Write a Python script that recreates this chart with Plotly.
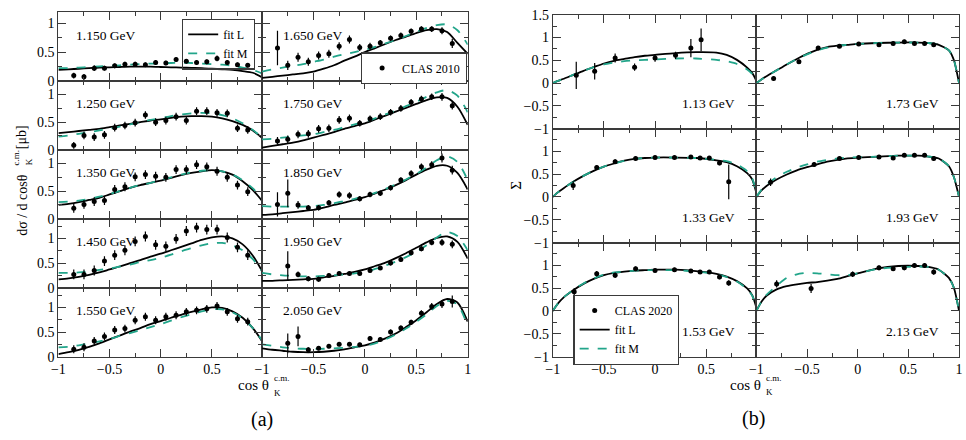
import plotly.graph_objects as go

W, H = 966, 440

# ---------------- DATA: panel (a) dsigma/dcos ----------------
x_fit_a = [-1.0, -0.9, -0.8, -0.7, -0.6, -0.5, -0.4, -0.3, -0.2, -0.1, 0.0,
           0.1, 0.2, 0.3, 0.4, 0.5, 0.6, 0.7, 0.8, 0.9, 1.0]
x_pts_a = [-0.85, -0.75, -0.65, -0.55, -0.45, -0.35, -0.25, -0.15, -0.05,
           0.05, 0.15, 0.25, 0.35, 0.45, 0.55, 0.65, 0.75, 0.85]
x_pts_a_short = [-0.75, -0.65, -0.55, -0.45, -0.35, -0.25, -0.15, -0.05,
                 0.05, 0.15, 0.25, 0.35, 0.45, 0.55, 0.65, 0.75, 0.85]

labels_a = ["1.150 GeV", "1.250 GeV", "1.350 GeV", "1.450 GeV", "1.550 GeV",
            "1.650 GeV", "1.750 GeV", "1.850 GeV", "1.950 GeV", "2.050 GeV"]
yrange_a = [1.2, 1.25, 1.25, 1.4, 1.4]

a1150_y = [0.09, 0.07, 0.22, 0.22, 0.26, 0.29, 0.29, 0.28, 0.32, 0.31, 0.37, 0.34, 0.32, 0.33, 0.39, 0.32, 0.28, 0.27]
a1150_e = [0.05, 0.05, 0.05, 0.04, 0.04, 0.04, 0.04, 0.04, 0.04, 0.04, 0.04, 0.04, 0.04, 0.04, 0.05, 0.04, 0.04, 0.04]
a1150_L = [0.19, 0.2, 0.21, 0.22, 0.23, 0.235, 0.24, 0.245, 0.245, 0.245, 0.24, 0.235, 0.23, 0.225, 0.22, 0.21, 0.2, 0.19, 0.17, 0.14, 0.05]
a1150_M = [0.22, 0.22, 0.23, 0.24, 0.25, 0.26, 0.27, 0.28, 0.29, 0.3, 0.3, 0.31, 0.31, 0.31, 0.3, 0.29, 0.28, 0.26, 0.23, 0.19, 0.12]

a1250_y = [0.08, 0.26, 0.23, 0.27, 0.40, 0.44, 0.49, 0.63, 0.50, 0.53, 0.60, 0.53, 0.70, 0.70, 0.67, 0.66, 0.39, 0.36]
a1250_e = [0.06, 0.07, 0.07, 0.07, 0.07, 0.07, 0.07, 0.07, 0.07, 0.07, 0.07, 0.07, 0.07, 0.07, 0.07, 0.07, 0.07, 0.07]
a1250_L = [0.3, 0.32, 0.34, 0.36, 0.38, 0.41, 0.44, 0.47, 0.5, 0.53, 0.55, 0.58, 0.6, 0.61, 0.61, 0.6, 0.57, 0.52, 0.45, 0.35, 0.2]
a1250_M = [0.24, 0.26, 0.29, 0.32, 0.35, 0.38, 0.42, 0.46, 0.5, 0.54, 0.57, 0.61, 0.64, 0.66, 0.67, 0.66, 0.63, 0.57, 0.48, 0.36, 0.2]

a1350_y = [0.19, 0.26, 0.31, 0.33, 0.53, 0.58, 0.76, 0.80, 0.77, 0.75, 0.89, 0.89, 0.98, 0.94, 0.86, 0.75, 0.61, 0.49]
a1350_e = [0.08, 0.08, 0.08, 0.08, 0.08, 0.08, 0.08, 0.08, 0.08, 0.08, 0.08, 0.08, 0.08, 0.08, 0.08, 0.08, 0.08, 0.08]
a1350_L = [0.25, 0.27, 0.3, 0.34, 0.38, 0.44, 0.5, 0.56, 0.61, 0.65, 0.69, 0.74, 0.79, 0.83, 0.86, 0.88, 0.86, 0.8, 0.68, 0.52, 0.3]
a1350_M = [0.3, 0.31, 0.33, 0.36, 0.4, 0.45, 0.5, 0.56, 0.61, 0.65, 0.7, 0.75, 0.8, 0.84, 0.87, 0.88, 0.86, 0.8, 0.7, 0.55, 0.35]

a1450_y = [0.27, 0.27, 0.35, 0.54, 0.66, 0.76, 0.94, 1.04, 0.87, 0.84, 0.99, 1.15, 1.22, 1.18, 1.18, 1.02, 0.82, 0.66]
a1450_e = [0.1, 0.1, 0.1, 0.1, 0.1, 0.1, 0.1, 0.1, 0.1, 0.1, 0.1, 0.1, 0.1, 0.1, 0.1, 0.1, 0.1, 0.1]
a1450_L = [0.17, 0.19, 0.22, 0.26, 0.31, 0.37, 0.43, 0.5, 0.56, 0.63, 0.69, 0.76, 0.83, 0.9, 0.97, 1.02, 1.04, 1.0, 0.88, 0.65, 0.3]
a1450_M = [0.3, 0.3, 0.31, 0.33, 0.36, 0.39, 0.43, 0.47, 0.52, 0.56, 0.61, 0.67, 0.74, 0.8, 0.86, 0.9, 0.91, 0.86, 0.76, 0.58, 0.3]

a1550_y = [0.15, 0.19, 0.32, 0.41, 0.54, 0.57, 0.74, 0.81, 0.74, 0.81, 0.84, 0.91, 0.94, 0.97, 1.03, 0.91, 0.77, 0.71]
a1550_e = [0.08, 0.08, 0.08, 0.08, 0.08, 0.08, 0.08, 0.08, 0.08, 0.08, 0.08, 0.08, 0.08, 0.08, 0.08, 0.08, 0.08, 0.08]
a1550_L = [0.05, 0.09, 0.14, 0.2, 0.27, 0.35, 0.43, 0.51, 0.58, 0.66, 0.72, 0.79, 0.85, 0.91, 0.96, 1.0, 0.99, 0.92, 0.79, 0.58, 0.28]
a1550_M = [0.19, 0.2, 0.23, 0.27, 0.31, 0.36, 0.42, 0.48, 0.54, 0.6, 0.66, 0.73, 0.8, 0.86, 0.92, 0.96, 0.96, 0.9, 0.78, 0.58, 0.3]

a1650_y = [0.57, 0.27, 0.41, 0.33, 0.44, 0.47, 0.60, 0.72, 0.58, 0.60, 0.66, 0.74, 0.79, 0.86, 0.90, 0.90, 0.87, 0.65]
a1650_e = [0.3, 0.08, 0.08, 0.07, 0.07, 0.07, 0.07, 0.07, 0.06, 0.06, 0.05, 0.05, 0.05, 0.05, 0.05, 0.05, 0.06, 0.08]
a1650_L = [0.05, 0.07, 0.09, 0.11, 0.13, 0.16, 0.21, 0.27, 0.35, 0.42, 0.5, 0.57, 0.64, 0.71, 0.77, 0.83, 0.88, 0.9, 0.85, 0.66, 0.47]
a1650_M = [0.16, 0.2, 0.23, 0.26, 0.29, 0.33, 0.37, 0.42, 0.46, 0.5, 0.54, 0.59, 0.65, 0.71, 0.78, 0.85, 0.92, 0.97, 0.98, 0.88, 0.63]

a1750_y = [0.16, 0.19, 0.28, 0.29, 0.38, 0.39, 0.54, 0.57, 0.48, 0.56, 0.60, 0.68, 0.75, 0.86, 0.92, 0.96, 0.96, 0.80]
a1750_e = [0.07, 0.07, 0.07, 0.07, 0.07, 0.07, 0.07, 0.07, 0.06, 0.06, 0.06, 0.06, 0.06, 0.06, 0.06, 0.06, 0.07, 0.07]
a1750_L = [0.04, 0.07, 0.1, 0.13, 0.17, 0.22, 0.27, 0.32, 0.38, 0.43, 0.48, 0.55, 0.62, 0.69, 0.76, 0.83, 0.9, 0.95, 0.94, 0.78, 0.45]
a1750_M = [0.19, 0.2, 0.22, 0.24, 0.26, 0.28, 0.32, 0.36, 0.41, 0.46, 0.51, 0.57, 0.64, 0.71, 0.79, 0.87, 0.96, 1.04, 1.08, 0.98, 0.68]

a1850_y = [0.26, 0.46, 0.25, 0.20, 0.20, 0.29, 0.44, 0.42, 0.36, 0.44, 0.46, 0.56, 0.70, 0.82, 0.94, 0.98, 1.10, 0.88]
a1850_e = [0.22, 0.25, 0.07, 0.05, 0.05, 0.05, 0.06, 0.06, 0.05, 0.05, 0.05, 0.05, 0.05, 0.06, 0.06, 0.06, 0.08, 0.08]
a1850_L = [0.07, 0.08, 0.1, 0.12, 0.14, 0.16, 0.2, 0.25, 0.29, 0.34, 0.39, 0.46, 0.53, 0.61, 0.7, 0.8, 0.89, 0.96, 0.96, 0.83, 0.53]
a1850_M = [0.23, 0.22, 0.22, 0.22, 0.22, 0.23, 0.25, 0.28, 0.32, 0.36, 0.41, 0.47, 0.54, 0.62, 0.71, 0.81, 0.93, 1.06, 1.13, 1.03, 0.7]

a1950_y = [0.44, 0.27, 0.18, 0.17, 0.25, 0.29, 0.29, 0.29, 0.35, 0.40, 0.50, 0.57, 0.71, 0.79, 0.92, 0.92, 0.88]
a1950_e = [0.3, 0.06, 0.05, 0.05, 0.04, 0.04, 0.04, 0.04, 0.04, 0.04, 0.05, 0.05, 0.05, 0.05, 0.06, 0.07, 0.08]
a1950_L = [0.14, 0.14, 0.15, 0.16, 0.17, 0.18, 0.21, 0.24, 0.28, 0.32, 0.37, 0.44, 0.51, 0.6, 0.7, 0.81, 0.92, 1.01, 1.04, 0.93, 0.59]
a1950_M = [0.3, 0.27, 0.25, 0.24, 0.23, 0.23, 0.24, 0.25, 0.27, 0.29, 0.32, 0.38, 0.45, 0.53, 0.62, 0.73, 0.86, 1.02, 1.13, 1.05, 0.76]

a2050_y = [0.27, 0.41, 0.14, 0.17, 0.21, 0.25, 0.25, 0.24, 0.37, 0.35, 0.50, 0.58, 0.70, 0.88, 1.02, 1.07, 1.12]
a2050_e = [0.2, 0.2, 0.05, 0.04, 0.04, 0.04, 0.04, 0.04, 0.05, 0.04, 0.05, 0.05, 0.05, 0.06, 0.07, 0.08, 0.12]
a2050_L = [0.17, 0.14, 0.12, 0.1, 0.09, 0.09, 0.1, 0.12, 0.15, 0.19, 0.23, 0.29, 0.37, 0.47, 0.6, 0.74, 0.9, 1.07, 1.17, 1.1, 0.71]
a2050_M = [0.25, 0.22, 0.19, 0.17, 0.16, 0.16, 0.16, 0.17, 0.18, 0.2, 0.22, 0.27, 0.35, 0.45, 0.57, 0.71, 0.86, 1.03, 1.13, 1.06, 0.62]

# ---------------- DATA: panel (b) beam asymmetry Sigma ----------------
x_fit_b = [-1.0, -0.95, -0.9, -0.8, -0.7, -0.6, -0.5, -0.4, -0.3, -0.2, -0.1,
           0.0, 0.2, 0.4, 0.6, 0.7, 0.8, 0.9, 0.95, 1.0]
labels_b = ["1.13 GeV", "1.73 GeV", "1.33 GeV", "1.93 GeV", "1.53 GeV", "2.13 GeV"]

b113_x = [-0.77, -0.59, -0.39, -0.2, 0.0, 0.2, 0.35, 0.45]
b113_y = [0.17, 0.26, 0.55, 0.35, 0.55, 0.61, 0.77, 0.95]
b113_e = [0.3, 0.18, 0.1, 0.08, 0.08, 0.08, 0.2, 0.25]
b113_L = [0, 0.05, 0.09, 0.18, 0.27, 0.35, 0.43, 0.49, 0.53, 0.57, 0.6, 0.62, 0.66, 0.68, 0.67, 0.62, 0.51, 0.34, 0.22, 0]
b113_M = [0, 0.05, 0.09, 0.18, 0.27, 0.35, 0.41, 0.45, 0.48, 0.5, 0.51, 0.52, 0.54, 0.54, 0.51, 0.48, 0.42, 0.3, 0.2, 0]

b173_x = [-0.83, -0.58, -0.39, -0.18, 0.01, 0.21, 0.35, 0.46, 0.56, 0.66, 0.75]
b173_y = [0.1, 0.47, 0.77, 0.81, 0.86, 0.84, 0.87, 0.91, 0.87, 0.87, 0.84]
b173_e = [0.05, 0.05, 0.04, 0.04, 0.04, 0.04, 0.04, 0.04, 0.04, 0.04, 0.04]
b173_L = [0, 0.08, 0.15, 0.28, 0.41, 0.53, 0.64, 0.73, 0.79, 0.82, 0.84, 0.86, 0.88, 0.89, 0.89, 0.88, 0.84, 0.72, 0.5, 0]
b173_M = [0, 0.08, 0.15, 0.28, 0.41, 0.53, 0.63, 0.72, 0.78, 0.82, 0.84, 0.86, 0.88, 0.89, 0.89, 0.88, 0.84, 0.72, 0.5, 0]

b133_x = [-0.8, -0.57, -0.39, -0.19, 0.0, 0.19, 0.35, 0.44, 0.53, 0.63, 0.72]
b133_y = [0.25, 0.64, 0.77, 0.84, 0.86, 0.86, 0.87, 0.85, 0.85, 0.74, 0.33]
b133_e = [0.1, 0.05, 0.05, 0.04, 0.04, 0.04, 0.04, 0.04, 0.04, 0.05, 0.38]
b133_L = [0, 0.1, 0.18, 0.33, 0.46, 0.57, 0.66, 0.73, 0.79, 0.83, 0.85, 0.86, 0.86, 0.85, 0.8, 0.76, 0.67, 0.52, 0.38, 0]
b133_M = [0, 0.1, 0.18, 0.33, 0.46, 0.57, 0.66, 0.73, 0.79, 0.83, 0.85, 0.86, 0.86, 0.85, 0.81, 0.78, 0.71, 0.56, 0.4, 0]

b193_x = [-0.86, -0.43, -0.18, 0.01, 0.21, 0.35, 0.46, 0.56, 0.66, 0.75]
b193_y = [0.32, 0.71, 0.84, 0.86, 0.87, 0.85, 0.91, 0.91, 0.91, 0.84]
b193_e = [0.08, 0.05, 0.04, 0.04, 0.04, 0.04, 0.04, 0.04, 0.04, 0.05]
b193_L = [0, 0.14, 0.24, 0.38, 0.49, 0.58, 0.65, 0.71, 0.77, 0.81, 0.84, 0.86, 0.88, 0.9, 0.9, 0.88, 0.84, 0.67, 0.43, 0]
b193_M = [0, 0.16, 0.27, 0.43, 0.55, 0.64, 0.71, 0.77, 0.81, 0.84, 0.86, 0.87, 0.88, 0.9, 0.9, 0.88, 0.84, 0.67, 0.43, 0]

b153_x = [-0.79, -0.57, -0.39, -0.19, 0.0, 0.19, 0.35, 0.44, 0.53, 0.63, 0.72]
b153_y = [0.42, 0.81, 0.78, 0.92, 0.88, 0.9, 0.87, 0.85, 0.85, 0.74, 0.61]
b153_e = [0.08, 0.06, 0.06, 0.05, 0.04, 0.04, 0.04, 0.04, 0.04, 0.05, 0.06]
b153_L = [0, 0.16, 0.28, 0.45, 0.59, 0.7, 0.78, 0.83, 0.86, 0.88, 0.89, 0.9, 0.9, 0.87, 0.81, 0.75, 0.65, 0.49, 0.34, 0]
b153_M = [0, 0.16, 0.28, 0.46, 0.6, 0.71, 0.79, 0.84, 0.86, 0.88, 0.89, 0.89, 0.89, 0.86, 0.8, 0.74, 0.64, 0.48, 0.33, 0]

b213_x = [-0.8, -0.46, -0.05, 0.21, 0.35, 0.46, 0.56, 0.66, 0.75]
b213_y = [0.59, 0.49, 0.8, 0.94, 0.92, 0.94, 0.99, 0.99, 0.85]
b213_e = [0.08, 0.1, 0.06, 0.05, 0.05, 0.05, 0.05, 0.05, 0.06]
b213_L = [0, 0.2, 0.33, 0.47, 0.54, 0.58, 0.61, 0.63, 0.66, 0.7, 0.76, 0.82, 0.93, 0.98, 0.98, 0.96, 0.9, 0.72, 0.5, 0]
b213_M = [0, 0.2, 0.35, 0.55, 0.72, 0.8, 0.83, 0.82, 0.8, 0.78, 0.78, 0.82, 0.92, 0.95, 0.97, 0.96, 0.9, 0.72, 0.5, 0]

# ---------------- STYLE ----------------
FONT = "Liberation Serif, Times New Roman, Times, serif"
AX = "#3a3a3a"
COL_L = "#000000"
COL_M = "#22a58a"

def px(x):
    return x / W

def py(y):
    return 1 - y / H

fig = go.Figure()
layout = dict(width=W, height=H, margin=dict(l=0, r=0, t=0, b=0),
              paper_bgcolor="white", plot_bgcolor="white",
              font=dict(family=FONT, color="black"),
              showlegend=True)
annotations = []

panels_a = [
    (a1150_y, a1150_e, a1150_L, a1150_M, x_pts_a),
    (a1250_y, a1250_e, a1250_L, a1250_M, x_pts_a),
    (a1350_y, a1350_e, a1350_L, a1350_M, x_pts_a),
    (a1450_y, a1450_e, a1450_L, a1450_M, x_pts_a),
    (a1550_y, a1550_e, a1550_L, a1550_M, x_pts_a),
    (a1650_y, a1650_e, a1650_L, a1650_M, x_pts_a),
    (a1750_y, a1750_e, a1750_L, a1750_M, x_pts_a),
    (a1850_y, a1850_e, a1850_L, a1850_M, x_pts_a),
    (a1950_y, a1950_e, a1950_L, a1950_M, x_pts_a_short),
    (a2050_y, a2050_e, a2050_L, a2050_M, x_pts_a_short),
]
panels_b = [
    (b113_x, b113_y, b113_e, b113_L, b113_M),
    (b173_x, b173_y, b173_e, b173_L, b173_M),
    (b133_x, b133_y, b133_e, b133_L, b133_M),
    (b193_x, b193_y, b193_e, b193_L, b193_M),
    (b153_x, b153_y, b153_e, b153_L, b153_M),
    (b213_x, b213_y, b213_e, b213_L, b213_M),
]


def axis_common():
    return dict(showline=True, linecolor=AX, linewidth=1, mirror="allticks",
                ticks="inside", ticklen=8, tickwidth=1.1, tickcolor=AX,
                showgrid=False, zeroline=False,
                tickfont=dict(family=FONT, size=14, color="black"),
                minor=dict(ticks="inside", ticklen=4, tickwidth=1, tickcolor=AX,
                           dtick=0.25, tick0=0, showgrid=False))


idx = 0
# ---------- panel (a) ----------
cols_a = [(52, 258), (258, 466)]
top_a, rowh_a = 5, 71.4
for k, (yv, ev, Lv, Mv, xv) in enumerate(panels_a):
    col = k // 5
    row = k % 5
    idx += 1
    xn = "x" if idx == 1 else f"x{idx}"
    yn = "y" if idx == 1 else f"y{idx}"
    x0, x1 = cols_a[col]
    t = top_a + row * rowh_a
    b = t + rowh_a
    xa = axis_common()
    xa.update(domain=[px(x0), px(x1)], anchor=yn, tickmode="linear", tick0=0, dtick=0.5,
              range=[-1, 0.99] if col == 0 else [-1, 1],
              showticklabels=(row == 4))
    ya = axis_common()
    ya.update(domain=[py(b), py(t)], anchor=xn, tickmode="linear", tick0=0, dtick=0.5,
              range=[0, yrange_a[row]], showticklabels=(col == 0))
    layout["xaxis" if idx == 1 else f"xaxis{idx}"] = xa
    layout["yaxis" if idx == 1 else f"yaxis{idx}"] = ya

    fig.add_trace(go.Scatter(x=x_fit_a, y=Lv, mode="lines", xaxis=xn, yaxis=yn,
                             line=dict(color=COL_L, width=1.8, shape="spline", smoothing=0.8),
                             name="fit L", legend="legend", showlegend=(k == 0),
                             legendrank=1))
    fig.add_trace(go.Scatter(x=x_fit_a, y=Mv, mode="lines", xaxis=xn, yaxis=yn,
                             line=dict(color=COL_M, width=1.8, dash="dash", shape="spline", smoothing=0.8),
                             name="fit M", legend="legend", showlegend=(k == 0),
                             legendrank=2))
    fig.add_trace(go.Scatter(x=xv, y=yv, mode="markers", xaxis=xn, yaxis=yn,
                             marker=dict(color="black", size=5),
                             error_y=dict(type="data", array=ev, color="black", thickness=1.2, width=0),
                             name="CLAS 2010", legend="legend2", showlegend=(k == 5)))
    annotations.append(dict(text=labels_a[k], xref="paper", yref="paper",
                            x=px(x0 + 16 if col == 0 else x0 + 19),
                            y=py(t + 24), xanchor="left", yanchor="middle",
                            showarrow=False, font=dict(family=FONT, size=13.5, color="black")))

# ---------- panel (b) ----------
cols_b = [(552, 758), (758, 963)]
top_b, rowh_b = 8, 118
for k, (xv, yv, ev, Lv, Mv) in enumerate(panels_b):
    row = k // 2
    col = k % 2
    idx += 1
    xn = f"x{idx}"
    yn = f"y{idx}"
    x0, x1 = cols_b[col]
    t = top_b + row * rowh_b
    b = t + rowh_b
    xa = axis_common()
    xa.update(domain=[px(x0), px(x1)], anchor=yn, tickmode="linear", tick0=0, dtick=0.5,
              range=[-1, 0.99] if col == 0 else [-1, 1],
              showticklabels=(row == 2))
    ya = axis_common()
    ya.update(domain=[py(b), py(t)], anchor=xn, tickmode="linear", tick0=0, dtick=0.5,
              range=[-1, 1.5] if row == 0 else [-1, 1.49], showticklabels=(col == 0))
    layout[f"xaxis{idx}"] = xa
    layout[f"yaxis{idx}"] = ya

    fig.add_trace(go.Scatter(x=x_fit_b, y=Lv, mode="lines", xaxis=xn, yaxis=yn,
                             line=dict(color=COL_L, width=1.8, shape="spline", smoothing=0.6),
                             name="fit L", legend="legend3", showlegend=(k == 4),
                             legendrank=2))
    fig.add_trace(go.Scatter(x=x_fit_b, y=Mv, mode="lines", xaxis=xn, yaxis=yn,
                             line=dict(color=COL_M, width=1.8, dash="dash", shape="spline", smoothing=0.6),
                             name="fit M", legend="legend3", showlegend=(k == 4),
                             legendrank=3))
    fig.add_trace(go.Scatter(x=xv, y=yv, mode="markers", xaxis=xn, yaxis=yn,
                             marker=dict(color="black", size=5),
                             error_y=dict(type="data", array=ev, color="black", thickness=1.2, width=0),
                             name="CLAS 2020", legend="legend3", showlegend=(k == 4),
                             legendrank=1))
    annotations.append(dict(text=labels_b[k], xref="paper", yref="paper",
                            x=px(738 if col == 0 else 945), y=py(t + 92),
                            xanchor="right", yanchor="middle", showarrow=False,
                            font=dict(family=FONT, size=13.5, color="black")))

legend_common = dict(bgcolor="white", bordercolor=AX, borderwidth=1.2,
                     font=dict(family=FONT, size=12, color="black"),
                     itemwidth=30, tracegroupgap=0, xanchor="left", yanchor="top",
                     xref="paper", yref="paper")
layout["legend"] = dict(legend_common, x=px(177), y=py(12), bgcolor="rgba(255,255,255,0)")
layout["legend2"] = dict(legend_common, x=px(358), y=py(47))
layout["legend3"] = dict(legend_common, x=px(573), y=py(298))

# axis titles and panel tags
def ann(text, x, y, size, angle=0, xanchor="center"):
    annotations.append(dict(text=text, xref="paper", yref="paper", x=px(x), y=py(y),
                            xanchor=xanchor, yanchor="middle", showarrow=False,
                            textangle=angle, font=dict(family=FONT, size=size, color="black")))

ann("cos θ", 267, 391, 15, xanchor="right")
ann("c.m.", 268, 384, 9, xanchor="left")
ann("K", 268, 400, 9, xanchor="left")
ann("cos θ", 765, 391, 15, xanchor="right")
ann("c.m.", 766, 384, 9, xanchor="left")
ann("K", 766, 399, 9, xanchor="left")
ann("(a)", 258, 427, 20)
ann("(b)", 755, 426, 20)
ann("dσ / d cosθ", 15, 205, 14, angle=-90)
ann("c.m.", 9, 156, 9, angle=-90)
ann("K", 22, 160, 9, angle=-90)
ann("[μb]", 15, 135, 14, angle=-90)
ann("Σ", 515, 185, 15, angle=-90)

layout["annotations"] = annotations
fig.update_layout(**layout)
fig.write_html("out.html")
